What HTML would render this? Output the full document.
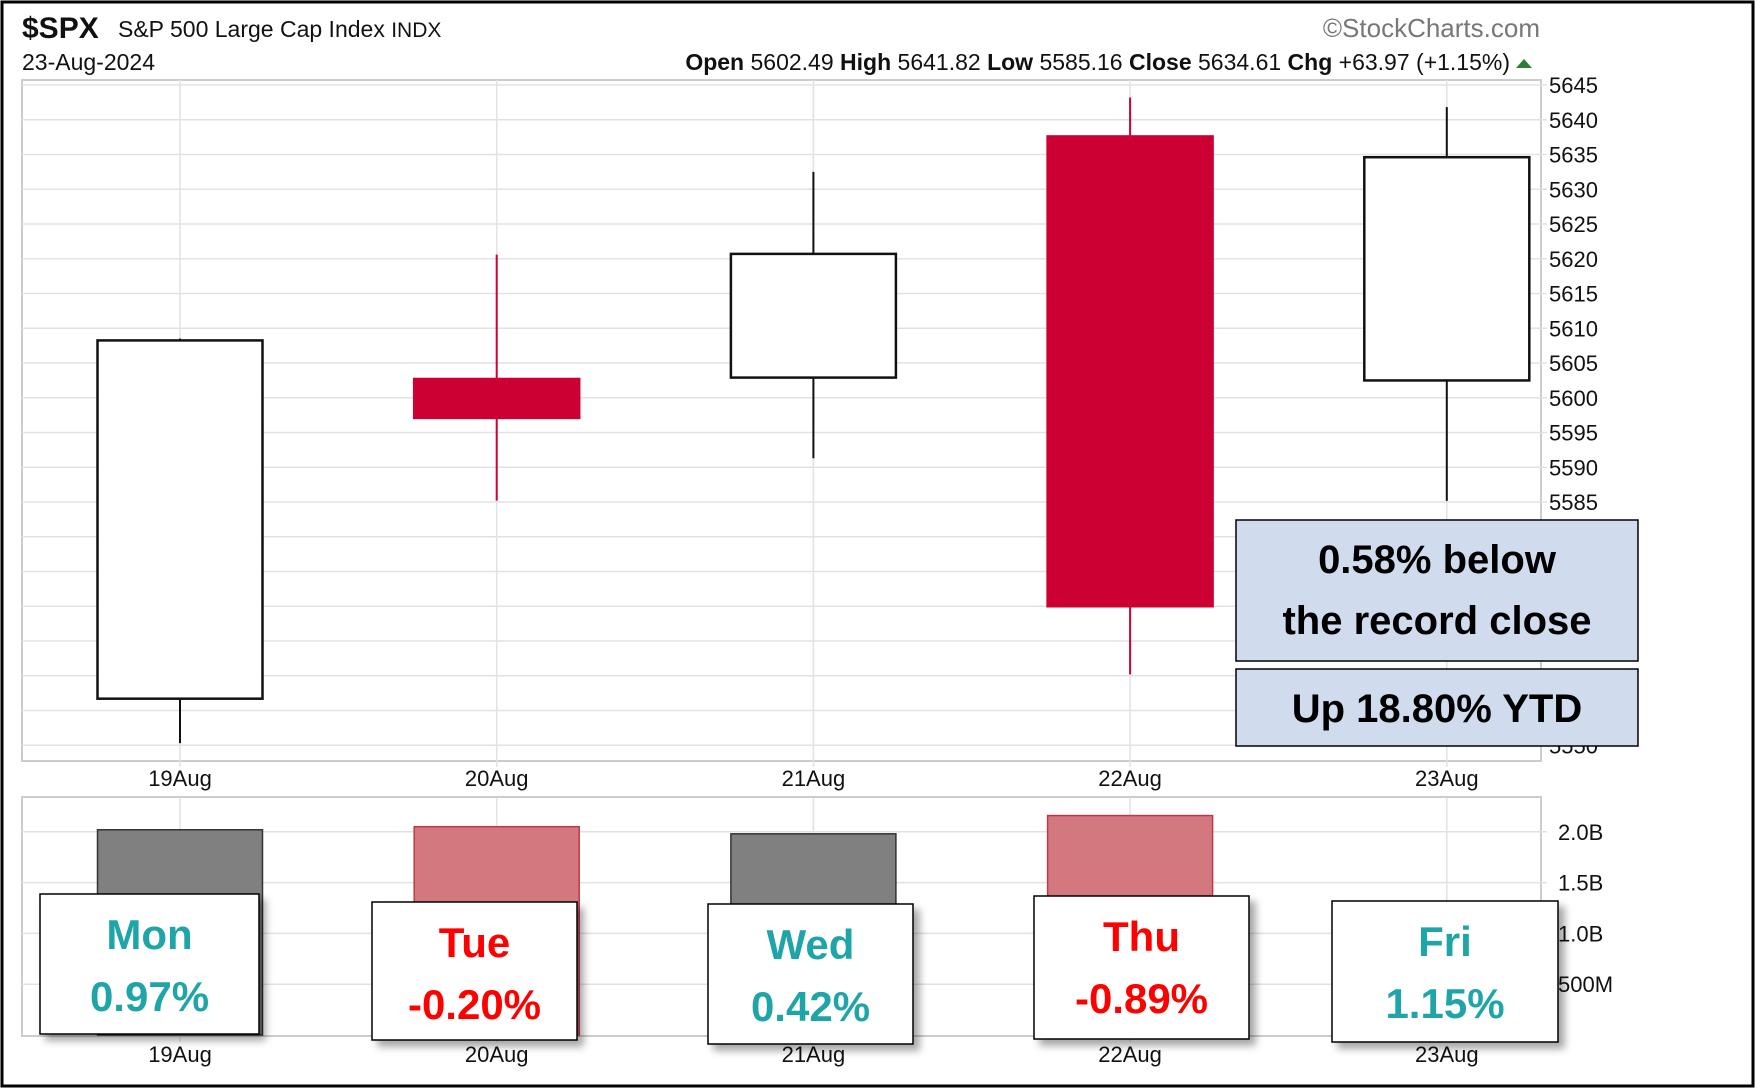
<!DOCTYPE html>
<html><head><meta charset="utf-8"><style>
html,body{margin:0;padding:0;background:#fff;}
svg{display:block;}
.ax{font-family:"Liberation Sans",Arial,sans-serif;font-size:22px;fill:#111;}
.box{font-family:"Liberation Sans",Arial,sans-serif;font-weight:bold;}
</style></head><body>
<svg id="chart" width="1756" height="1089" viewBox="0 0 1756 1089" xmlns="http://www.w3.org/2000/svg">
<defs><filter id="sh" x="-20%" y="-20%" width="150%" height="150%"><feDropShadow dx="6" dy="6" stdDeviation="4" flood-color="#000" flood-opacity="0.35"/></filter></defs>
<rect x="2" y="2" width="1751" height="1084" fill="#fff" stroke="#000" stroke-width="3"/>
<g id="header">
<text x="22" y="38" class="ax" style="font-size:30px;font-weight:bold">$SPX</text>
<text x="118" y="37" class="ax" style="font-size:23px">S&amp;P 500 Large Cap Index <tspan font-size="21">INDX</tspan></text>
<text x="22" y="70" class="ax" style="font-size:23px">23-Aug-2024</text>
<text x="1510" y="70" text-anchor="end" class="ax" style="font-size:23px"><tspan font-weight="bold">Open</tspan> 5602.49  <tspan font-weight="bold">High</tspan> 5641.82  <tspan font-weight="bold">Low</tspan> 5585.16  <tspan font-weight="bold">Close</tspan> 5634.61  <tspan font-weight="bold">Chg</tspan> +63.97 (+1.15%)</text>
<polygon points="1516,68 1532,68 1524,59" fill="#2e7d32"/>
<text x="1540" y="37" text-anchor="end" class="ax" style="font-size:26px;fill:#777">©StockCharts.com</text>
</g>
<g id="price"></g>
<g id="vol"></g>
<g id="ann">
<rect x="1236" y="520" width="402" height="141" fill="#d0dcee" stroke="#000" stroke-width="1.5"/>
<text x="1437" y="573" text-anchor="middle" class="box" font-size="40">0.58% below</text>
<text x="1437" y="634" text-anchor="middle" class="box" font-size="40">the record close</text>
<rect x="1236" y="669" width="402" height="77" fill="#d0dcee" stroke="#000" stroke-width="1.5"/>
<text x="1437" y="722" text-anchor="middle" class="box" font-size="40">Up 18.80% YTD</text>
</g>
<g id="days"></g>
</svg>
<script>
const dates=["19Aug","20Aug","21Aug","22Aug","23Aug"];
const opens=[5556.7,5602.7,5602.9,5637.6,5602.49];
const highs=[5608.5,5620.6,5632.5,5643.2,5641.82];
const lows=[5550.3,5585.2,5591.3,5560.2,5585.16];
const closes=[5608.25,5597.1,5620.7,5570.0,5634.61];
const volumes=[2.02,2.05,1.98,2.16,0];
const priceTicks=[5645,5640,5635,5630,5625,5620,5615,5610,5605,5600,5595,5590,5585,5580,5575,5570,5565,5560,5555,5550];
const volTicks=[0.5,1.0,1.5,2.0];
const volLabels=["500M","1.0B","1.5B","2.0B"];
const dayNames=["Mon","Tue","Wed","Thu","Fri"];
const dayChanges=["0.97%","-0.20%","0.42%","-0.89%","1.15%"];
const dayBoxes=[[40,894,219,140],[372,902,205,138],[708,904,205,140],[1034,896,215,143],[1332,901,226,141]];

const NS="http://www.w3.org/2000/svg";
function mk(p,t,a){const e=document.createElementNS(NS,t);for(const k in a)e.setAttribute(k,a[k]);p.appendChild(e);return e;}
const L=22,R=1541,PT=80,PB=761,VT=797,VB=1036;
const x=i=>180+316.7*i;
const y=v=>85+(5645-v)*6.95;
const vy=v=>1035-v*101.6;
const P=document.getElementById('price'),V=document.getElementById('vol'),D=document.getElementById('days');
let e;
// price panel
e=mk(P,'rect',{x:L,y:PT,width:R-L,height:PB-PT,fill:'#fff',stroke:'#ccc','stroke-width':2});


priceTicks.forEach(t=>{
 e=mk(P,'line',{x1:L,x2:R+6,y1:y(t),y2:y(t),stroke:'#e2e2e2','stroke-width':1.5});
 
 
 e=mk(P,'text',{x:R+8,y:y(t)+8,class:'ax'});e.textContent=t;
 
 
});
dates.forEach((d,i)=>{
 e=mk(P,'line',{x1:x(i),x2:x(i),y1:PT,y2:PB+6,stroke:'#e2e2e2','stroke-width':1.5});
 
 
 e=mk(P,'text',{x:x(i),y:786,'text-anchor':'middle',class:'ax'});e.textContent=d;
 
 
 e=mk(V,'line',{x1:x(i),x2:x(i),y1:VT,y2:VB+6,stroke:'#e2e2e2','stroke-width':1.5});
 
 
 e=mk(V,'text',{x:x(i),y:1062,'text-anchor':'middle',class:'ax'});e.textContent=d;
 
 
});
const bw=165;
dates.forEach((d,i)=>{
 const up=closes[i]>=opens[i];const col=up?'#111':'#cc0033';
 e=mk(P,'line',{x1:x(i),x2:x(i),y1:y(highs[i]),y2:y(lows[i]),stroke:col,'stroke-width':2});
 
 
 const top=y(Math.max(opens[i],closes[i])),bot=y(Math.min(opens[i],closes[i]));
 e=mk(P,'rect',{x:x(i)-bw/2,y:top,width:bw,height:Math.max(1,bot-top),fill:up?'#fff':'#cc0033',stroke:up?'#111':'#cc0033','stroke-width':2.5});
 
 
});
// volume panel
e=mk(V,'rect',{x:L,y:VT,width:R-L,height:VB-VT,fill:'none',stroke:'#ccc','stroke-width':2});


volTicks.forEach((t,k)=>{
 e=mk(V,'line',{x1:L,x2:R+6,y1:vy(t),y2:vy(t),stroke:'#e2e2e2','stroke-width':1.5});
 
 
 e=mk(V,'text',{x:R+17,y:vy(t)+8,class:'ax'});e.textContent=volLabels[k];
 
 
});
volumes.forEach((v,i)=>{
 if(!v)return;
 const up=closes[i]>=opens[i];
 e=mk(V,'rect',{x:x(i)-bw/2,y:vy(v),width:bw,height:vy(0)-vy(v),fill:up?'#808080':'#d47880',stroke:up?'#333':'#c03848','stroke-width':1.5});
 
 
});
// day boxes
dayBoxes.forEach((b,i)=>{
 const col=dayChanges[i].startsWith('-')?'#ff0000':'#1fa5a8';
 e=mk(D,'rect',{x:b[0],y:b[1],width:b[2],height:b[3],fill:'#fff',stroke:'#000','stroke-width':1.5,filter:'url(#sh)'});
 
 
 e=mk(D,'text',{x:b[0]+b[2]/2,y:b[1]+55,'text-anchor':'middle',class:'box','font-size':42,fill:col});e.textContent=dayNames[i];
 
 
 e=mk(D,'text',{x:b[0]+b[2]/2,y:b[1]+117,'text-anchor':'middle',class:'box','font-size':42,fill:col});e.textContent=dayChanges[i];
 
 
});
</script>
</body></html>
